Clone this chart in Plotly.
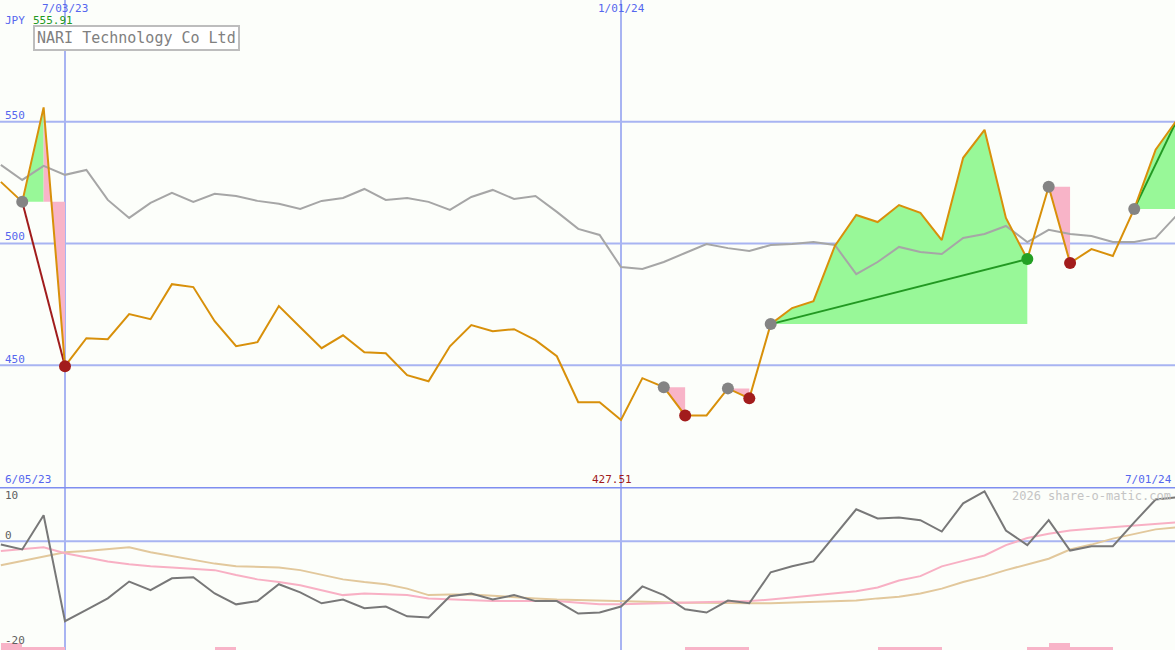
import pandas as pd
import plotly.graph_objects as go

# ---------------- data ----------------
week_dates = pd.date_range("2023-06-12", periods=56, freq="7D")

price = [525.3, 517.1, 555.91, 449.6, 461.1, 460.7, 471.0, 468.9, 483.3, 482.1,
         468.1, 457.8, 459.5, 474.3, 465.6, 457.0, 462.3, 455.3, 454.9, 445.9,
         443.4, 457.8, 466.5, 464.0, 464.8, 460.3, 453.7, 434.8, 434.8, 427.51,
         444.7, 441.0, 429.4, 429.4, 440.5, 436.4, 466.9, 473.5, 476.3, 499.0,
         511.7, 508.8, 515.8, 512.6, 501.4, 535.2, 546.7, 510.5, 493.6, 523.3,
         492.0, 497.7, 494.9, 514.2, 538.5, 550.8]

index_line = [532.3, 526.1, 531.9, 528.2, 530.2, 517.9, 510.5, 516.7, 520.8, 517.1,
              520.4, 519.5, 517.5, 516.3, 514.2, 517.5, 518.7, 522.4, 517.9, 518.7,
              517.1, 513.8, 519.1, 522.0, 518.3, 519.5, 513.0, 506.0, 503.5, 490.3,
              489.5, 492.4, 496.1, 499.8, 498.1, 496.9, 499.4, 499.8, 500.6, 499.4,
              487.4, 492.4, 498.6, 496.5, 495.7, 502.3, 503.9, 507.2, 500.6, 505.6,
              503.9, 503.1, 500.6, 500.6, 502.3, 511.7]

momentum = [-0.6, -1.5, 4.8, -14.7, -12.6, -10.5, -7.4, -9.0, -6.8, -6.6,
            -9.6, -11.6, -11.0, -7.9, -9.4, -11.4, -10.7, -12.3, -12.0, -13.8,
            -14.0, -10.1, -9.6, -10.7, -9.9, -11.0, -11.0, -13.3, -13.1, -12.0,
            -8.3, -9.9, -12.5, -13.1, -10.9, -11.4, -5.7, -4.6, -3.7, 1.1,
            5.9, 4.2, 4.4, 3.9, 1.8, 7.0, 9.2, 2.0, -0.7, 3.9,
            -1.7, -0.9, -0.9, 3.5, 7.7, 8.1]

pink_avg = [-1.8, -1.5, -1.1, -2.2, -3.0, -3.7, -4.2, -4.6, -4.8, -5.0,
            -5.3, -6.2, -7.0, -7.5, -8.1, -9.0, -9.9, -9.6, -9.7, -9.9,
            -10.5, -10.7, -10.8, -11.0, -11.0, -11.0, -11.0, -11.3, -11.6, -11.6,
            -11.5, -11.4, -11.4, -11.3, -11.2, -11.0, -10.7, -10.3, -10.0, -9.6,
            -9.2, -8.5, -7.2, -6.4, -4.6, -3.6, -2.6, -0.7, 0.6, 1.4,
            2.0, 2.3, 2.6, 2.9, 3.3, 3.5]

tan_avg = [-4.4, -3.6, -2.8, -2.0, -1.8, -1.5, -1.1, -2.0, -2.7, -3.5,
           -4.1, -4.6, -4.7, -4.8, -5.3, -6.2, -7.0, -7.5, -7.9, -8.7,
           -9.9, -9.8, -9.8, -10.0, -10.3, -10.5, -10.7, -10.8, -11.0, -11.1,
           -11.2, -11.2, -11.3, -11.3, -11.4, -11.4, -11.4, -11.3, -11.2, -11.0,
           -10.9, -10.5, -10.2, -9.6, -8.7, -7.5, -6.5, -5.3, -4.3, -3.2,
           -1.5, -0.6, 0.5, 1.4, 2.2, 2.6]

# signal markers (week indices)
entry_idx = [1, 31, 34, 36, 49, 53]
loss_exit_idx = [3, 32, 35, 50]
gain_exit_idx = [48]

# shaded regions: (start week, end week, week giving level, colour key)
regions_start = [1, 2, 31, 34, 36, 49, 53]
regions_end = [2, 3, 32, 35, 48, 50, 55]
regions_level = [1, 1, 31, 34, 36, 49, 53]
regions_kind = ["gain", "loss", "loss", "loss", "gain", "loss", "gain"]

# trade lines: (from week, to week, colour key)
trades_from = [1, 36, 53]
trades_to = [3, 48, 55]
trades_kind = ["loss", "gain", "gain"]

# bottom pink bars (week index, height)
bar_weeks = [0, 1, 2, 10, 32, 33, 34, 41, 42, 43, 48, 49, 50, 51]
bar_heights = [1.3, 0.6, 0.6, 0.6, 0.6, 0.6, 0.6, 0.6, 0.6, 0.6, 0.6, 1.3, 0.6, 0.6]

grid_levels = [450, 500, 550]
grid_dates = ["2023-07-03", "2024-01-01"]

# ---------------- styling ----------------
W, H = 1175, 650
BG = "#fcfefa"
BLUE_TXT = "#5566ee"
GRID = "#a8b4f2"
SEP = "#7f8ef0"
ORANGE = "#d8900a"
FILL = {"gain": "#98f898", "loss": "#f8b4c8"}
LINEC = {"gain": "#229922", "loss": "#a01c1c"}
MONO = "DejaVu Sans Mono"

x_range = [pd.Timestamp("2023-07-03") - pd.Timedelta(days=65 / (556 / 182)),
           pd.Timestamp("2024-01-01") + pd.Timedelta(days=554 / (556 / 182))]

fig = go.Figure()

# shaded regions
for s, e, lv, k in zip(regions_start, regions_end, regions_level, regions_kind):
    xs = list(week_dates[s:e + 1]) + [week_dates[e], week_dates[s]]
    ys = price[s:e + 1] + [price[lv], price[lv]]
    fig.add_trace(go.Scatter(x=xs, y=ys, fill="toself", fillcolor=FILL[k],
                             line=dict(width=0), mode="lines", hoverinfo="skip",
                             showlegend=False, yaxis="y"))

# comparison index line
fig.add_trace(go.Scatter(x=week_dates, y=index_line, mode="lines",
                         line=dict(color="#a6a6a6", width=2), showlegend=False, yaxis="y"))

# trade lines
for a, b, k in zip(trades_from, trades_to, trades_kind):
    fig.add_trace(go.Scatter(x=[week_dates[a], week_dates[b]], y=[price[a], price[b]],
                             mode="lines", line=dict(color=LINEC[k], width=2),
                             showlegend=False, yaxis="y"))

# price
fig.add_trace(go.Scatter(x=week_dates, y=price, mode="lines",
                         line=dict(color=ORANGE, width=2), showlegend=False, yaxis="y"))

# markers
fig.add_trace(go.Scatter(x=[week_dates[i] for i in entry_idx], y=[price[i] for i in entry_idx],
                         mode="markers", marker=dict(size=12, color="#848484"),
                         showlegend=False, yaxis="y"))
fig.add_trace(go.Scatter(x=[week_dates[i] for i in loss_exit_idx], y=[price[i] for i in loss_exit_idx],
                         mode="markers", marker=dict(size=12, color="#a21c1c"),
                         showlegend=False, yaxis="y"))
fig.add_trace(go.Scatter(x=[week_dates[i] for i in gain_exit_idx], y=[price[i] for i in gain_exit_idx],
                         mode="markers", marker=dict(size=12, color="#24a024"),
                         showlegend=False, yaxis="y"))

# lower panel
fig.add_trace(go.Bar(x=[week_dates[i] + pd.Timedelta(days=3.5) for i in bar_weeks],
                     y=bar_heights, base=-20, width=7 * 86400000,
                     marker=dict(color="#f8b4c8", line=dict(width=0)),
                     showlegend=False, yaxis="y2"))
fig.add_trace(go.Scatter(x=week_dates, y=tan_avg, mode="lines",
                         line=dict(color="#e2c89c", width=2), showlegend=False, yaxis="y2"))
fig.add_trace(go.Scatter(x=week_dates, y=pink_avg, mode="lines",
                         line=dict(color="#f8b0c4", width=2), showlegend=False, yaxis="y2"))
fig.add_trace(go.Scatter(x=week_dates, y=momentum, mode="lines",
                         line=dict(color="#787878", width=2), showlegend=False, yaxis="y2"))

shapes = []
for lv in grid_levels:
    shapes.append(dict(type="line", xref="paper", x0=0, x1=1, yref="y", y0=lv, y1=lv,
                       line=dict(color=GRID, width=2), layer="below"))
for d in grid_dates:
    shapes.append(dict(type="line", xref="x", x0=d, x1=d, yref="paper", y0=0, y1=1,
                       line=dict(color=GRID, width=2), layer="below"))
shapes.append(dict(type="line", xref="paper", x0=0, x1=1, yref="y2", y0=0, y1=0,
                   line=dict(color=GRID, width=2), layer="below"))
shapes.append(dict(type="line", xref="paper", x0=0, x1=1, yref="y2", y0=10, y1=10,
                   line=dict(color=SEP, width=3), layer="above"))


def px(x):
    return x / W


def py(y):
    return 1 - y / H


def ann(text, x, y, color, size=11, xanchor="left", **kw):
    return dict(text=text, x=px(x), y=py(y), xref="paper", yref="paper", showarrow=False,
                xanchor=xanchor, yanchor="middle", font=dict(family=MONO, size=size, color=color), **kw)


annotations = [
    ann("7/03/23", 65, 8, BLUE_TXT, xanchor="center"),
    ann("1/01/24", 621, 8, BLUE_TXT, xanchor="center"),
    ann("JPY", 3, 20, BLUE_TXT),
    ann("555.91", 31, 20, "#229922"),
    ann("550", 3, 116, BLUE_TXT),
    ann("500", 3, 237, BLUE_TXT),
    ann("450", 3, 359, BLUE_TXT),
    ann("6/05/23", 3, 479, BLUE_TXT),
    ann("427.51", 612, 479, "#a01c1c", xanchor="center"),
    ann("7/01/24", 1174, 479, BLUE_TXT, xanchor="right"),
    ann("2026 share-o-matic.com", 1173, 496, "#c4c4c4", size=12, xanchor="right"),
    ann("10", 3, 495, "#606060"),
    ann("0", 3, 535, "#606060"),
    ann("-20", 3, 640, "#606060"),
    dict(text="NARI Technology Co Ltd", x=px(33), y=py(25), xref="paper", yref="paper",
         showarrow=False, xanchor="left", yanchor="top",
         font=dict(family=MONO, size=15, color="#808080"),
         bordercolor="#bdbdbd", borderwidth=2, borderpad=2, bgcolor="#ffffff"),
]

fig.update_layout(
    width=W, height=H, margin=dict(l=0, r=0, t=0, b=0),
    paper_bgcolor=BG, plot_bgcolor=BG, showlegend=False, bargap=0,
    xaxis=dict(type="date", range=x_range, visible=False, showgrid=False, zeroline=False),
    yaxis=dict(domain=[163 / 650, 1], range=[400, 600], visible=False, showgrid=False, zeroline=False),
    yaxis2=dict(domain=[0, 163 / 650], range=[-20, 10], visible=False, showgrid=False, zeroline=False),
    shapes=shapes, annotations=annotations,
)

fig.write_html("out.html", config={"displayModeBar": False},
               post_script="document.body.style.margin='0';document.body.style.overflow='hidden';")
